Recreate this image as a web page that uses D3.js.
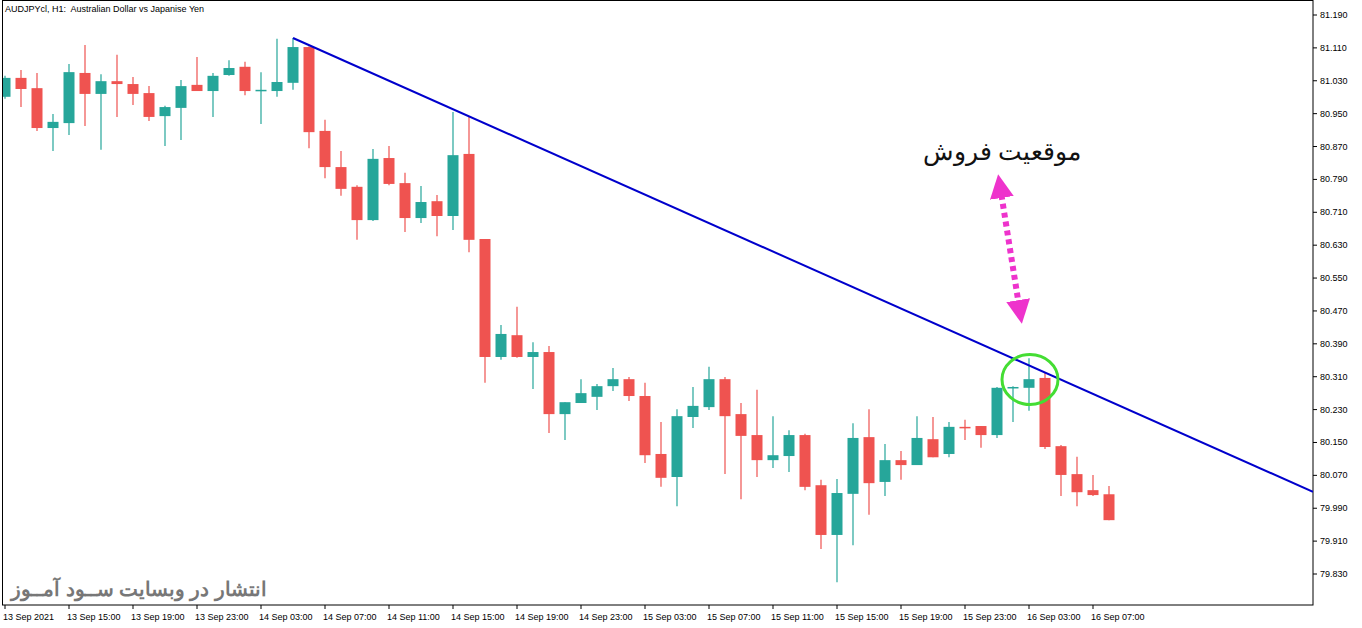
<!DOCTYPE html>
<html><head><meta charset="utf-8">
<script src="https://cdn.jsdelivr.net/npm/d3@7"></script>
<style>body{margin:0;background:#fff}svg{display:block}text{font-family:"Liberation Sans",Arial,sans-serif}</style>
</head><body><svg id="c" width="1362" height="628"></svg>
<script>
const opens =[80.991,81.037,81.012,80.915,80.927,81.049,80.998,81.029,81.022,81.000,80.944,80.964,81.020,81.005,81.044,81.064,81.006,81.005,81.025,81.112,80.908,80.820,80.772,80.691,80.842,80.781,80.696,80.737,80.701,80.852,80.645,80.358,80.411,80.358,80.370,80.219,80.246,80.261,80.287,80.304,80.263,80.122,80.066,80.212,80.236,80.304,80.219,80.168,80.107,80.117,80.168,80.046,79.925,80.025,80.163,80.054,80.107,80.095,80.158,80.122,80.188,80.190,80.168,80.283,80.283,80.307,80.141,80.073,80.034,80.024];
const highs =[81.042,81.056,81.049,80.949,81.071,81.117,81.046,81.093,81.039,81.017,80.969,81.032,81.088,81.049,81.080,81.076,81.051,81.132,81.134,81.114,80.935,80.859,80.776,80.864,80.871,80.806,80.774,80.752,80.954,80.944,80.645,80.436,80.480,80.394,80.385,80.248,80.304,80.292,80.331,80.309,80.295,80.200,80.231,80.285,80.334,80.309,80.246,80.278,80.214,80.180,80.171,80.059,80.061,80.197,80.231,80.146,80.129,80.214,80.212,80.200,80.205,80.190,80.285,80.287,80.355,80.321,80.144,80.115,80.071,80.044];
const lows  =[80.986,80.966,80.908,80.859,80.898,80.920,80.862,80.942,80.971,80.932,80.871,80.886,81.008,80.942,81.042,80.995,80.925,80.991,81.008,80.866,80.793,80.750,80.643,80.689,80.776,80.662,80.684,80.652,80.667,80.613,80.295,80.351,80.356,80.280,80.173,80.156,80.246,80.229,80.275,80.251,80.100,80.042,79.995,80.185,80.229,80.073,80.012,80.066,80.088,80.078,80.034,79.891,79.810,79.900,79.974,80.020,80.059,80.095,80.114,80.114,80.156,80.137,80.161,80.200,80.227,80.134,80.020,79.995,80.020,79.961];
const closes=[81.037,81.010,80.915,80.930,81.051,80.998,81.029,81.022,80.998,80.942,80.966,81.017,81.005,81.042,81.061,81.005,81.008,81.027,81.112,80.905,80.820,80.767,80.691,80.840,80.779,80.696,80.735,80.701,80.849,80.643,80.358,80.414,80.358,80.370,80.219,80.248,80.270,80.287,80.304,80.263,80.119,80.064,80.214,80.239,80.304,80.214,80.166,80.107,80.119,80.168,80.042,79.925,80.027,80.161,80.051,80.107,80.095,80.161,80.114,80.188,80.185,80.168,80.283,80.285,80.304,80.139,80.071,80.029,80.022,79.961];
const timeLabels=["13 Sep 2021","13 Sep 15:00","13 Sep 19:00","13 Sep 23:00","14 Sep 03:00","14 Sep 07:00","14 Sep 11:00","14 Sep 15:00","14 Sep 19:00","14 Sep 23:00","15 Sep 03:00","15 Sep 07:00","15 Sep 11:00","15 Sep 15:00","15 Sep 19:00","15 Sep 23:00","16 Sep 03:00","16 Sep 07:00"];
const priceTicks=[79.830,79.910,79.990,80.070,80.150,80.230,80.310,80.390,80.470,80.550,80.630,80.710,80.790,80.870,80.950,81.030,81.110,81.190];
const trendIdx=[18,81.75];
const trendPrice=[81.134,80.030];
const noteIdx=64, notePrice=80.330;

const svg=d3.select("#c");
const x=d3.scaleLinear().domain([0,1]).range([5,21]);
const y=d3.scaleLinear().domain([79.830,81.190]).range([574,15]);
const UP="#26a69a", DN="#ef5350";

svg.append("rect").attr("x",2.5).attr("y",0.5).attr("width",1310.5).attr("height",604.5).attr("fill","none").attr("stroke","#000");
svg.append("clipPath").attr("id","clip").append("rect").attr("x",3).attr("y",1).attr("width",1310).attr("height",604);
const g=svg.append("g").attr("clip-path","url(#clip)");

const data=opens.map((o,i)=>({i,o,h:highs[i],l:lows[i],c:closes[i]}));
const cg=g.selectAll("g.k").data(data).join("g");
cg.append("line").attr("x1",d=>x(d.i)).attr("x2",d=>x(d.i)).attr("y1",d=>y(d.h)).attr("y2",d=>y(d.l))
  .attr("stroke",d=>d.c>=d.o?UP:DN).attr("stroke-width",1.2);
cg.append("rect").attr("x",d=>x(d.i)-5.5).attr("width",11)
  .attr("y",d=>y(Math.max(d.o,d.c))).attr("height",d=>Math.max(1.5,Math.abs(y(d.o)-y(d.c))))
  .attr("fill",d=>d.c>=d.o?UP:DN);

g.append("line").attr("x1",x(trendIdx[0])).attr("y1",y(trendPrice[0])).attr("x2",x(trendIdx[1])).attr("y2",y(trendPrice[1]))
  .attr("stroke","#0000cc").attr("stroke-width",2);

const ya=svg.append("g").attr("transform","translate(1313,0)");
priceTicks.forEach(p=>{
  ya.append("line").attr("x1",0).attr("x2",4).attr("y1",y(p)).attr("y2",y(p)).attr("stroke","#000");
  ya.append("text").attr("x",7).attr("y",y(p)+3).attr("font-size",9).attr("fill","#000").text(p.toFixed(3));
});
timeLabels.forEach((t,k)=>{
  const xi=x(k*4);
  svg.append("line").attr("x1",xi).attr("x2",xi).attr("y1",605).attr("y2",609).attr("stroke","#000");
  svg.append("text").attr("x",xi-2).attr("y",620).attr("font-size",9).attr("fill","#000").text(t);
});
svg.append("text").attr("x",5).attr("y",12).attr("font-size",9).attr("fill","#000").attr("xml:space","preserve").text("AUDJPYcl, H1:  Australian Dollar vs Japanise Yen");

const cx=x(noteIdx)+1, cy=y(notePrice)+11;
svg.append("ellipse").attr("cx",cx).attr("cy",cy).attr("rx",28).attr("ry",25).attr("fill","none").attr("stroke","#44dd33").attr("stroke-width",3);
svg.append("defs").html('<marker id="ah" viewBox="0 0 10 10" refX="5" refY="5" markerWidth="4" markerHeight="4" orient="auto-start-reverse"><path d="M0,0L10,5L0,10z" fill="#ee33cc"/></marker>');
svg.append("line").attr("x1",1000).attr("y1",186).attr("x2",1020).attr("y2",312).attr("stroke","#ee33cc").attr("stroke-width",6)
  .attr("stroke-dasharray","5,4").attr("marker-start","url(#ah)").attr("marker-end","url(#ah)");
svg.append("text").attr("x",1002).attr("y",160).attr("text-anchor","middle").attr("font-size",25).attr("font-family","'DejaVu Serif',serif").attr("fill","#111").attr("direction","rtl").text("موقعیت فروش");
svg.append("text").attr("x",139).attr("y",596).attr("text-anchor","middle").attr("font-size",19.5).attr("font-weight","bold").attr("font-family","'Noto Sans',sans-serif").attr("fill","#777").text("انتشار در وبسایت ســود آمــوز");
</script></body></html>
